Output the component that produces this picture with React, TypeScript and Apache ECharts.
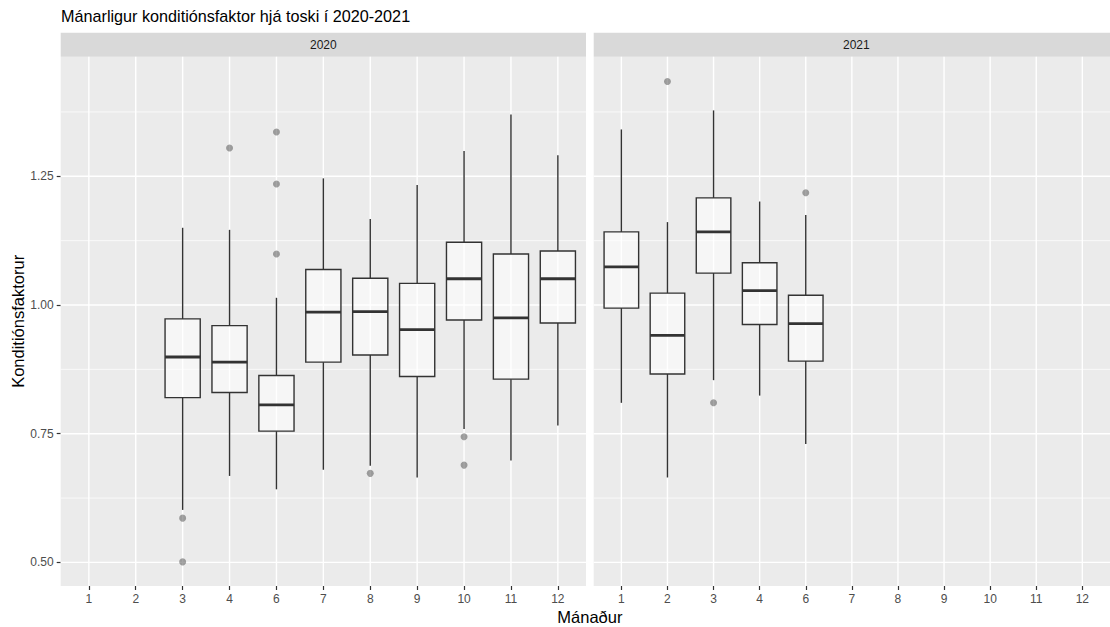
import React, { useEffect, useRef } from 'react';
import * as echarts from 'echarts';

// Month levels present on the discrete x axis (no May)
const months = ['1', '2', '3', '4', '6', '7', '8', '9', '10', '11', '12'];
const years = ['2020', '2021'];
const yTicks = [0.5, 0.75, 1.0, 1.25];
const yMinorTicks = [0.625, 0.875, 1.125, 1.375];

// [month, lower whisker, Q1, median, Q3, upper whisker]
const boxes2020: [string, number, number, number, number, number][] = [
  ['3', 0.602, 0.82, 0.899, 0.973, 1.15],
  ['4', 0.668, 0.83, 0.889, 0.96, 1.146],
  ['6', 0.642, 0.755, 0.806, 0.863, 1.014],
  ['7', 0.68, 0.889, 0.986, 1.069, 1.246],
  ['8', 0.688, 0.903, 0.987, 1.052, 1.167],
  ['9', 0.665, 0.861, 0.952, 1.042, 1.233],
  ['10', 0.759, 0.971, 1.051, 1.122, 1.299],
  ['11', 0.698, 0.856, 0.975, 1.099, 1.37],
  ['12', 0.766, 0.965, 1.051, 1.105, 1.291],
];
const boxes2021: [string, number, number, number, number, number][] = [
  ['1', 0.81, 0.994, 1.074, 1.142, 1.341],
  ['2', 0.665, 0.866, 0.941, 1.023, 1.161],
  ['3', 0.854, 1.062, 1.142, 1.208, 1.378],
  ['4', 0.824, 0.962, 1.028, 1.082, 1.201],
  ['6', 0.73, 0.891, 0.964, 1.019, 1.175],
];

// [month, value]
const outliers2020: [string, number][] = [
  ['3', 0.586], ['3', 0.501], ['4', 1.305], ['6', 1.336], ['6', 1.235],
  ['6', 1.099], ['8', 0.673], ['10', 0.744], ['10', 0.689],
];
const outliers2021: [string, number][] = [
  ['2', 1.434], ['3', 0.81], ['6', 1.218],
];

const Y_MIN = 0.4542;
const Y_MAX = 1.4823;
const X_MIN = 0.4;
const X_MAX = months.length + 0.6;

const FONT = '"Liberation Sans", Arial, Helvetica, sans-serif';
const PANEL_TOP = 56.7;
const PANEL_H = 529.3;
const PANEL_W = 525.3;
const PANEL_LEFTS = [60.7, 593.7];
const STRIP_TOP = 32.7;
const STRIP_H = 24;

const monthPos = (m: string) => months.indexOf(m) + 1;

const gridLineData = [
  ...yMinorTicks.map((v) => [0, v]),
  ...yTicks.map((v) => [1, v]),
  ...months.map((_, i) => [2, i + 1]),
];

const gridLineRender = (params: any, api: any) => {
  const kind = api.value(0);
  const v = api.value(1);
  const cs = params.coordSys;
  if (kind === 2) {
    const px = api.coord([v, Y_MIN])[0];
    return {
      type: 'line',
      shape: { x1: px, y1: cs.y, x2: px, y2: cs.y + cs.height },
      style: { stroke: '#FFFFFF', lineWidth: 1.4 },
    };
  }
  const py = api.coord([X_MIN, v])[1];
  return {
    type: 'line',
    shape: { x1: cs.x, y1: py, x2: cs.x + cs.width, y2: py },
    style: { stroke: '#FFFFFF', lineWidth: kind === 1 ? 1.4 : 0.7 },
  };
};

const boxRender = (_params: any, api: any) => {
  const x = api.value(0);
  const lo = api.coord([x, api.value(1)]);
  const q1 = api.coord([x, api.value(2)]);
  const md = api.coord([x, api.value(3)]);
  const q3 = api.coord([x, api.value(4)]);
  const hi = api.coord([x, api.value(5)]);
  const w = api.size([0.75, 0])[0];
  const cx = lo[0];
  const stroke = '#333333';
  return {
    type: 'group',
    children: [
      { type: 'line', shape: { x1: cx, y1: hi[1], x2: cx, y2: q3[1] }, style: { stroke, lineWidth: 1.4 } },
      { type: 'line', shape: { x1: cx, y1: q1[1], x2: cx, y2: lo[1] }, style: { stroke, lineWidth: 1.4 } },
      {
        type: 'rect',
        shape: { x: cx - w / 2, y: q3[1], width: w, height: q1[1] - q3[1] },
        style: { fill: 'rgba(255,255,255,0.55)', stroke, lineWidth: 1.4 },
      },
      {
        type: 'line',
        shape: { x1: cx - w / 2, y1: md[1], x2: cx + w / 2, y2: md[1] },
        style: { stroke, lineWidth: 2.8 },
      },
    ],
  };
};

export default function App() {
  const ref = useRef<HTMLDivElement>(null);

  useEffect(() => {
    if (!ref.current) return;
    const chart = echarts.init(ref.current, null, { renderer: 'svg' });

    const boxSets = [boxes2020, boxes2021];
    const outlierSets = [outliers2020, outliers2021];

    const grids = PANEL_LEFTS.map((left) => ({
      left,
      top: PANEL_TOP,
      width: PANEL_W,
      height: PANEL_H,
      show: true,
      backgroundColor: '#EBEBEB',
      borderWidth: 0,
    }));

    const xAxes = PANEL_LEFTS.map((_, i) => ({
      type: 'value',
      gridIndex: i,
      min: X_MIN,
      max: X_MAX,
      axisLine: { show: false },
      splitLine: { show: false },
      axisTick: {
        show: true,
        customValues: months.map((_, k) => k + 1),
        length: 4,
        lineStyle: { color: '#333333', width: 1.2 },
      },
      axisLabel: {
        customValues: months.map((_, k) => k + 1),
        formatter: (v: number) => months[Math.round(v) - 1] ?? '',
        color: '#4D4D4D',
        fontSize: 12,
        fontFamily: FONT,
        margin: 7,
      },
    }));

    const yAxes = PANEL_LEFTS.map((_, i) => ({
      type: 'value',
      gridIndex: i,
      min: Y_MIN,
      max: Y_MAX,
      axisLine: { show: false },
      splitLine: { show: false },
      axisTick: {
        show: i === 0,
        customValues: yTicks,
        length: 4,
        lineStyle: { color: '#333333', width: 1.2 },
      },
      axisLabel: {
        show: i === 0,
        customValues: yTicks,
        formatter: (v: number) => v.toFixed(2),
        color: '#4D4D4D',
        fontSize: 12,
        fontFamily: FONT,
        margin: 7,
      },
    }));

    const series: any[] = [];
    PANEL_LEFTS.forEach((_, i) => {
      series.push({
        type: 'custom',
        xAxisIndex: i,
        yAxisIndex: i,
        z: 1,
        silent: true,
        renderItem: gridLineRender,
        data: gridLineData,
      });
      series.push({
        type: 'custom',
        xAxisIndex: i,
        yAxisIndex: i,
        z: 2,
        silent: true,
        renderItem: boxRender,
        encode: { x: 0, y: [1, 2, 3, 4, 5] },
        data: boxSets[i].map((b) => [monthPos(b[0]), b[1], b[2], b[3], b[4], b[5]]),
      });
      series.push({
        type: 'scatter',
        xAxisIndex: i,
        yAxisIndex: i,
        z: 3,
        silent: true,
        symbol: 'circle',
        symbolSize: 7,
        itemStyle: { color: 'rgba(51,51,51,0.55)' },
        data: outlierSets[i].map((o) => [monthPos(o[0]), o[1]]),
      });
    });

    const graphics: any[] = [];
    PANEL_LEFTS.forEach((left, i) => {
      graphics.push({
        type: 'rect',
        silent: true,
        shape: { x: left, y: STRIP_TOP, width: PANEL_W, height: STRIP_H },
        style: { fill: '#D9D9D9' },
      });
      graphics.push({
        type: 'text',
        silent: true,
        x: left + PANEL_W / 2,
        y: STRIP_TOP + STRIP_H / 2,
        style: {
          text: years[i],
          fontSize: 12,
          fontFamily: FONT,
          fill: '#1A1A1A',
          textAlign: 'center',
          textVerticalAlign: 'middle',
        },
      });
    });
    graphics.push({
      type: 'text',
      silent: true,
      x: (PANEL_LEFTS[0] + PANEL_LEFTS[1] + PANEL_W) / 2,
      y: 617,
      style: {
        text: 'Mánaður',
        fontSize: 16.5,
        fontFamily: FONT,
        fill: '#000000',
        textAlign: 'center',
        textVerticalAlign: 'middle',
      },
    });
    graphics.push({
      type: 'text',
      silent: true,
      x: 17.5,
      y: PANEL_TOP + PANEL_H / 2,
      rotation: Math.PI / 2,
      style: {
        text: 'Konditiónsfaktorur',
        fontSize: 16.5,
        fontFamily: FONT,
        fill: '#000000',
        textAlign: 'center',
        textVerticalAlign: 'middle',
      },
    });

    chart.setOption({
      animation: false,
      backgroundColor: '#FFFFFF',
      title: {
        text: 'Mánarligur konditiónsfaktor hjá toski í 2020-2021',
        left: 56,
        top: 3,
        textStyle: { fontSize: 16.2, fontWeight: 'normal', color: '#000000', fontFamily: FONT },
      },
      grid: grids,
      xAxis: xAxes,
      yAxis: yAxes,
      series,
      graphic: graphics,
    });

    return () => chart.dispose();
  }, []);

  return (
    <div
      ref={ref}
      style={{ position: 'fixed', left: 0, top: 0, width: 1110, height: 627 }}
    />
  );
}
